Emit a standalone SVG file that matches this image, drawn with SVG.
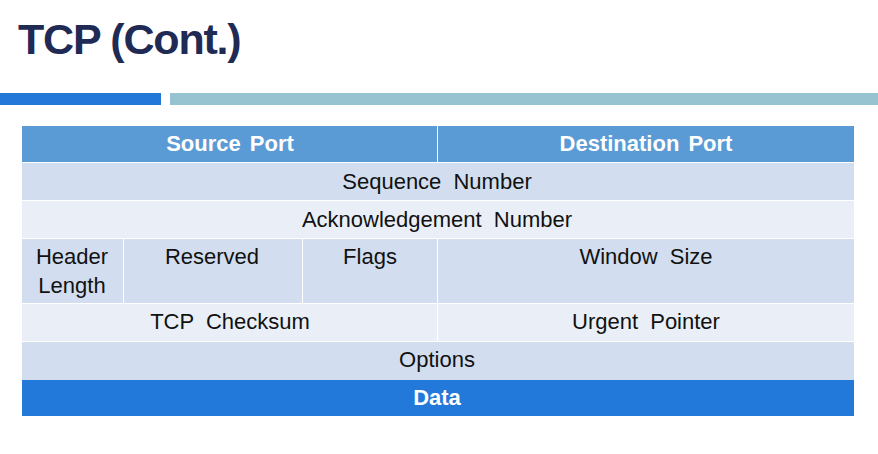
<svg xmlns="http://www.w3.org/2000/svg" width="878" height="454" viewBox="0 0 878 454">
<style>
.t{font-family:"Liberation Sans",Arial,sans-serif;font-size:22px;fill:#111;text-anchor:middle;word-spacing:6px}
.b{font-weight:bold;fill:#fff;word-spacing:3px}
.hd{fill:#5b9bd5}
.dk{fill:#d2deef}
.lt{fill:#eaeff7}
.dt{fill:#2279d9}
</style>
<rect width="878" height="454" fill="#fff"/>
<text x="18" y="54" font-family="Liberation Sans,Arial,sans-serif" font-size="43" font-weight="bold" fill="#1f2a55" letter-spacing="-1.2">TCP (Cont.)</text>
<rect x="0" y="93" width="161" height="12" fill="#2277d8"/>
<rect x="170" y="93" width="708" height="12" fill="#96c3cf"/>
<g id="source-port"><rect class="hd" x="22" y="126" width="415" height="36"/><text class="t b" x="230" y="151">Source Port</text></g>
<g id="destination-port"><rect class="hd" x="438" y="126" width="416" height="36"/><text class="t b" x="646" y="151">Destination Port</text></g>
<g id="sequence-number"><rect class="dk" x="22" y="163" width="832" height="37"/><text class="t" x="437" y="189">Sequence Number</text></g>
<g id="ack-number"><rect class="lt" x="22" y="201" width="832" height="37"/><text class="t" x="437" y="227">Acknowledgement Number</text></g>
<g id="header-length"><rect class="dk" x="22" y="239" width="101" height="64"/><text class="t" x="72" y="264">Header</text><text class="t" x="72" y="293">Length</text></g>
<g id="reserved"><rect class="dk" x="124" y="239" width="178" height="64"/><text class="t" x="212" y="264">Reserved</text></g>
<g id="flags"><rect class="dk" x="303" y="239" width="134" height="64"/><text class="t" x="370" y="264">Flags</text></g>
<g id="window-size"><rect class="dk" x="438" y="239" width="416" height="64"/><text class="t" x="646" y="264">Window Size</text></g>
<g id="tcp-checksum"><rect class="lt" x="22" y="304" width="415" height="37"/><text class="t" x="230" y="329">TCP Checksum</text></g>
<g id="urgent-pointer"><rect class="lt" x="438" y="304" width="416" height="37"/><text class="t" x="646" y="329">Urgent Pointer</text></g>
<g id="options"><rect class="dk" x="22" y="342" width="832" height="38"/><text class="t" x="437" y="367">Options</text></g>
<g id="data"><rect class="dt" x="22" y="380" width="832" height="36"/><text class="t b" x="437" y="405">Data</text></g>
<g id="connectors"></g>
</svg>
